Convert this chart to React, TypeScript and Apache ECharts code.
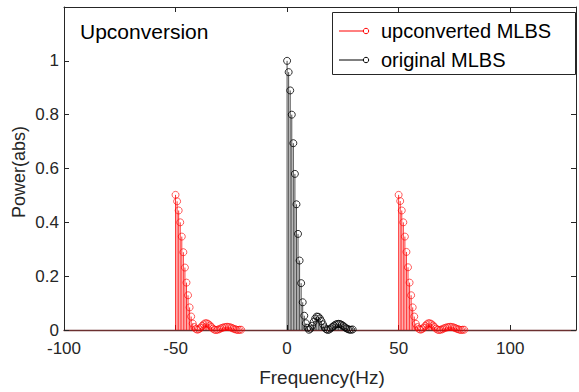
import React, { useEffect, useRef } from "react";
import * as echarts from "echarts";

const origFreq = [0, 0.7, 1.4, 2.1, 2.8, 3.5, 4.2, 4.9, 5.6, 6.3, 7, 7.7, 8.4, 9.1, 9.8, 10.5, 11.2, 11.9, 12.6, 13.3, 14, 14.7, 15.4, 16.1, 16.8, 17.5, 18.2, 18.9, 19.6, 20.3, 21, 21.7, 22.4, 23.1, 23.8, 24.5, 25.2, 25.9, 26.6, 27.3, 28, 28.7, 29.4];
const origPower = [1.0, 0.958, 0.89, 0.8, 0.694, 0.58, 0.467, 0.357, 0.258, 0.174, 0.103, 0.053, 0.025, 0.008, 0.001, 0.005, 0.016, 0.03, 0.043, 0.05, 0.049, 0.043, 0.033, 0.021, 0.01, 0.003, 0.0, 0.002, 0.006, 0.011, 0.016, 0.02, 0.022, 0.023, 0.022, 0.019, 0.015, 0.01, 0.006, 0.003, 0.001, 0.001, 0.002];

const upFreqNeg = [-50, -49.3, -48.6, -47.9, -47.2, -46.5, -45.8, -45.1, -44.4, -43.7, -43, -42.3, -41.6, -40.9, -40.2, -39.5, -38.8, -38.1, -37.4, -36.7, -36, -35.3, -34.6, -33.9, -33.2, -32.5, -31.8, -31.1, -30.4, -29.7, -29, -28.3, -27.6, -26.9, -26.2, -25.5, -24.8, -24.1, -23.4, -22.7, -22, -21.3, -20.6];
const upPowerNeg = [0.502, 0.478, 0.444, 0.4, 0.347, 0.289, 0.232, 0.176, 0.129, 0.084, 0.05, 0.024, 0.011, 0.004, 0.001, 0.003, 0.008, 0.015, 0.021, 0.025, 0.025, 0.022, 0.017, 0.011, 0.005, 0.001, 0.0, 0.001, 0.003, 0.006, 0.008, 0.01, 0.011, 0.012, 0.011, 0.01, 0.008, 0.005, 0.003, 0.001, 0.0, 0.001, 0.001];

const upFreqPos = [50, 50.7, 51.4, 52.1, 52.8, 53.5, 54.2, 54.9, 55.6, 56.3, 57, 57.7, 58.4, 59.1, 59.8, 60.5, 61.2, 61.9, 62.6, 63.3, 64, 64.7, 65.4, 66.1, 66.8, 67.5, 68.2, 68.9, 69.6, 70.3, 71, 71.7, 72.4, 73.1, 73.8, 74.5, 75.2, 75.9, 76.6, 77.3, 78, 78.7, 79.4];
const upPowerPos = [0.502, 0.479, 0.444, 0.4, 0.347, 0.29, 0.233, 0.176, 0.129, 0.084, 0.05, 0.023, 0.011, 0.004, 0.001, 0.003, 0.008, 0.015, 0.021, 0.025, 0.025, 0.022, 0.017, 0.011, 0.005, 0.001, 0.0, 0.001, 0.003, 0.006, 0.008, 0.01, 0.011, 0.012, 0.011, 0.01, 0.008, 0.005, 0.003, 0.001, 0.0, 0.001, 0.001];

const xTicks = [-100, -50, 0, 50, 100];
const yTicks = [0, 0.2, 0.4, 0.6, 0.8, 1];

const FONT = "'Liberation Sans', Arial, Helvetica, sans-serif";
const TXT = "#262626";

function pairs(xs: number[], ys: number[]) {
  return xs.map((x, i) => [x, ys[i]]);
}

function stemSeries(data: number[][], color: string, width: number) {
  return {
    type: "custom",
    data,
    silent: true,
    renderItem: (params: any, api: any) => {
      const p0 = api.coord([api.value(0), 0]);
      const p1 = api.coord([api.value(0), api.value(1)]);
      return {
        type: "line",
        shape: { x1: p0[0], y1: p0[1], x2: p1[0], y2: p1[1] },
        style: { stroke: color, lineWidth: width },
      };
    },
  };
}

function markerSeries(data: number[][], color: string, bw: number) {
  return {
    type: "scatter",
    data,
    symbol: "circle",
    symbolSize: 7,
    silent: true,
    itemStyle: { color: "rgba(0,0,0,0)", borderColor: color, borderWidth: bw },
  };
}

export default function App() {
  const ref = useRef<HTMLDivElement>(null);
  useEffect(() => {
    document.body.style.margin = "0";
    const chart = echarts.init(ref.current!, null, { renderer: "svg" });
    const redData = pairs(upFreqNeg, upPowerNeg).concat(pairs(upFreqPos, upPowerPos));
    const blackData = pairs(origFreq, origPower);
    const xFmt = (v: number) => (xTicks.some((t) => Math.abs(t - v) < 1e-6) ? String(v) : "");
    const yFmt = (v: number) => (yTicks.some((t) => Math.abs(t - v) < 1e-6) ? String(Math.round(v * 10) / 10) : "");
    const tickStyle = { show: true, inside: true, length: 5, lineStyle: { color: TXT, width: 1 } };
    chart.setOption({
      animation: false,
      grid: { left: 64, right: 1, top: 7, bottom: 62 },
      xAxis: [
        {
          type: "value", min: -100, max: 129.5, interval: 50, position: "bottom",
          axisLine: { show: true, onZero: false, lineStyle: { color: "#6b3030", width: 1.3 } },
          axisTick: tickStyle,
          axisLabel: { formatter: xFmt, color: TXT, fontSize: 17, fontFamily: FONT, margin: 10 },
          splitLine: { show: false },
        },
        {
          type: "value", min: -100, max: 129.5, interval: 50, position: "top",
          axisLine: { show: true, onZero: false, lineStyle: { color: TXT, width: 1 } },
          axisTick: tickStyle,
          axisLabel: { show: false },
          splitLine: { show: false },
        },
      ],
      yAxis: [
        {
          type: "value", min: 0, max: 1.2, interval: 0.2, position: "left",
          axisLine: { show: true, onZero: false, lineStyle: { color: TXT, width: 1 } },
          axisTick: tickStyle,
          axisLabel: { formatter: yFmt, color: TXT, fontSize: 17, fontFamily: FONT, margin: 5 },
          splitLine: { show: false },
        },
        {
          type: "value", min: 0, max: 1.2, interval: 0.2, position: "right",
          axisLine: { show: true, onZero: false, lineStyle: { color: TXT, width: 1 } },
          axisTick: tickStyle,
          axisLabel: { show: false },
          splitLine: { show: false },
        },
      ],
      series: [
        stemSeries(redData, "#ff0000", 0.8),
        markerSeries(redData, "#ff0000", 0.8),
        stemSeries(blackData, "#000000", 0.7),
        markerSeries(blackData, "#000000", 1),
      ],
      graphic: [
        { type: "text", x: 80, y: 31, style: { text: "Upconversion", fontSize: 21, fontFamily: FONT, fill: "#000", verticalAlign: "middle" } },
        { type: "text", x: 19, y: 172, rotation: Math.PI / 2, style: { text: "Power(abs)", fontSize: 18, fontFamily: FONT, fill: TXT, align: "center", verticalAlign: "middle" } },
        { type: "text", x: 322, y: 377, style: { text: "Frequency(Hz)", fontSize: 19, fontFamily: FONT, fill: TXT, align: "center", verticalAlign: "middle" } },
        { type: "rect", shape: { x: 332.5, y: 12.5, width: 243, height: 62 }, style: { fill: "#fff", stroke: TXT, lineWidth: 1 }, z: 10 },
        { type: "line", shape: { x1: 339, y1: 31, x2: 364, y2: 31 }, style: { stroke: "#ff0000", lineWidth: 1 }, z: 11 },
        { type: "circle", shape: { cx: 366, cy: 31, r: 2.7 }, style: { fill: "none", stroke: "#ff0000", lineWidth: 1 }, z: 11 },
        { type: "text", x: 381, y: 31, style: { text: "upconverted MLBS", fontSize: 20, fontFamily: FONT, fill: "#000", verticalAlign: "middle" }, z: 11 },
        { type: "line", shape: { x1: 339, y1: 60, x2: 364, y2: 60 }, style: { stroke: "#000", lineWidth: 1 }, z: 11 },
        { type: "circle", shape: { cx: 366, cy: 60, r: 2.7 }, style: { fill: "none", stroke: "#000", lineWidth: 1 }, z: 11 },
        { type: "text", x: 381, y: 60, style: { text: "original MLBS", fontSize: 20, fontFamily: FONT, fill: "#000", verticalAlign: "middle" }, z: 11 },
      ],
    });
    return () => chart.dispose();
  }, []);
  return <div ref={ref} style={{ width: 579, height: 392 }} />;
}
